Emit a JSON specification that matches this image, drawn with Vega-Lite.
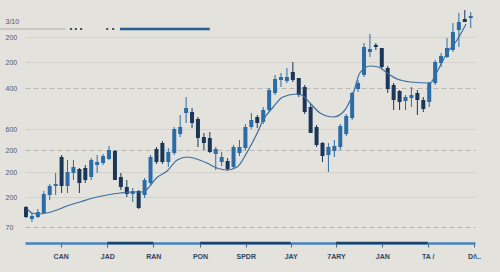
{
  "$schema": "https://vega.github.io/schema/vega-lite/v6.json",
  "autosize": "none",
  "width": 450,
  "height": 243,
  "padding": {"left": 25, "right": 25, "top": 0, "bottom": 29},
  "background": "#e3e2dd",
  "config": {
    "view": {"stroke": null},
    "scale": {"continuousPadding": 0},
    "axisX": {
      "grid": false,
      "domainColor": "#4683bd",
      "domainWidth": 2.5,
      "tickColor": "#5a6070",
      "tickSize": 4,
      "tickWidth": 1,
      "labelPadding": 5,
      "labelFont": "Liberation Sans",
      "labelFontSize": 7,
      "labelFontWeight": "bold",
      "labelColor": "#34445f",
      "labelFlush": false,
      "labelOverlap": false
    },
    "axisY": {
      "domain": false,
      "ticks": false,
      "labelAlign": "left",
      "labelPadding": 20,
      "labelFont": "Liberation Sans",
      "labelFontSize": 7,
      "labelColor": "#50566a",
      "labelOverlap": false,
      "grid": true,
      "gridWidth": 1
    }
  },
  "datasets": {
    "candles": [
      {"d":0,"open":36,"close":26,"high":37,"low":25},
      {"d":1,"open":24,"close":27,"high":30,"low":21},
      {"d":2,"open":26,"close":31,"high":34,"low":25},
      {"d":3,"open":30,"close":49,"high":52,"low":29},
      {"d":4,"open":48,"close":57,"high":59,"low":43},
      {"d":5,"open":57,"close":59,"high":70,"low":48},
      {"d":6,"open":86,"close":57,"high":88,"low":50},
      {"d":7,"open":57,"close":71,"high":83,"low":50},
      {"d":8,"open":70,"close":76,"high":83,"low":63},
      {"d":9,"open":74,"close":60,"high":75,"low":50},
      {"d":10,"open":75,"close":63,"high":78,"low":60},
      {"d":11,"open":66,"close":83,"high":85,"low":63},
      {"d":12,"open":78,"close":81,"high":88,"low":70},
      {"d":13,"open":80,"close":87,"high":89,"low":78},
      {"d":14,"open":84,"close":93,"high":97,"low":83},
      {"d":15,"open":92,"close":63,"high":93,"low":63},
      {"d":16,"open":66,"close":56,"high":70,"low":53},
      {"d":17,"open":56,"close":49,"high":63,"low":46},
      {"d":18,"open":49,"close":52,"high":55,"low":41},
      {"d":19,"open":52,"close":35,"high":53,"low":34},
      {"d":20,"open":48,"close":63,"high":65,"low":45},
      {"d":21,"open":60,"close":86,"high":88,"low":58},
      {"d":22,"open":94,"close":81,"high":96,"low":79},
      {"d":23,"open":100,"close":81,"high":102,"low":79},
      {"d":24,"open":81,"close":91,"high":95,"low":76},
      {"d":25,"open":90,"close":114,"high":116,"low":88},
      {"d":26,"open":109,"close":116,"high":128,"low":106},
      {"d":27,"open":130,"close":135,"high":146,"low":120},
      {"d":28,"open":131,"close":120,"high":135,"low":115},
      {"d":29,"open":124,"close":105,"high":126,"low":96},
      {"d":30,"open":106,"close":100,"high":110,"low":93},
      {"d":31,"open":105,"close":91,"high":111,"low":90},
      {"d":32,"open":89,"close":94,"high":96,"low":73},
      {"d":33,"open":81,"close":86,"high":91,"low":77},
      {"d":34,"open":82,"close":74,"high":85,"low":72},
      {"d":35,"open":76,"close":96,"high":98,"low":74},
      {"d":36,"open":90,"close":96,"high":103,"low":87},
      {"d":37,"open":95,"close":116,"high":119,"low":93},
      {"d":38,"open":116,"close":123,"high":130,"low":114},
      {"d":39,"open":126,"close":120,"high":128,"low":115},
      {"d":40,"open":121,"close":133,"high":136,"low":119},
      {"d":41,"open":133,"close":153,"high":155,"low":131},
      {"d":42,"open":150,"close":164,"high":168,"low":148},
      {"d":43,"open":163,"close":166,"high":170,"low":156},
      {"d":44,"open":162,"close":166,"high":175,"low":160},
      {"d":45,"open":171,"close":163,"high":181,"low":161},
      {"d":46,"open":165,"close":148,"high":165,"low":146},
      {"d":47,"open":156,"close":131,"high":158,"low":129},
      {"d":48,"open":136,"close":110,"high":139,"low":110},
      {"d":49,"open":116,"close":98,"high":118,"low":96},
      {"d":50,"open":100,"close":87,"high":101,"low":81},
      {"d":51,"open":88,"close":96,"high":100,"low":71},
      {"d":52,"open":92,"close":97,"high":103,"low":86},
      {"d":53,"open":96,"close":117,"high":119,"low":93},
      {"d":54,"open":109,"close":127,"high":129,"low":107},
      {"d":55,"open":125,"close":150,"high":151,"low":123},
      {"d":56,"open":154,"close":160,"high":163,"low":151},
      {"d":57,"open":168,"close":196,"high":200,"low":166},
      {"d":58,"open":191,"close":194,"high":209,"low":186},
      {"d":59,"open":198,"close":196,"high":200,"low":193},
      {"d":60,"open":195,"close":176,"high":195,"low":174},
      {"d":61,"open":175,"close":154,"high":177,"low":150},
      {"d":62,"open":158,"close":143,"high":160,"low":133},
      {"d":63,"open":152,"close":141,"high":153,"low":133},
      {"d":64,"open":142,"close":146,"high":148,"low":133},
      {"d":65,"open":145,"close":148,"high":156,"low":136},
      {"d":66,"open":150,"close":143,"high":153,"low":128},
      {"d":67,"open":143,"close":134,"high":146,"low":131},
      {"d":68,"open":141,"close":160,"high":161,"low":136},
      {"d":69,"open":160,"close":181,"high":183,"low":158},
      {"d":70,"open":180,"close":187,"high":190,"low":176},
      {"d":71,"open":186,"close":195,"high":205,"low":185},
      {"d":72,"open":193,"close":211,"high":220,"low":191},
      {"d":73,"open":213,"close":221,"high":230,"low":196},
      {"d":74,"open":224,"close":221,"high":233,"low":221},
      {"d":75,"open":225,"close":227,"high":231,"low":215}
    ],
    "ma": [
      {"d":0.2,"v":34},{"d":1,"v":30},{"d":2,"v":29},{"d":3.5,"v":30},{"d":5.2,"v":33},
      {"d":6.9,"v":37},{"d":9.1,"v":41},{"d":11.3,"v":45},{"d":13.7,"v":48},{"d":15.9,"v":50},
      {"d":18,"v":51},{"d":19.7,"v":51},{"d":20.6,"v":55},{"d":22,"v":65},{"d":23.8,"v":72},
      {"d":25.5,"v":83},{"d":27.2,"v":86},{"d":28.8,"v":84},{"d":30.5,"v":80},{"d":32.2,"v":75},
      {"d":33.9,"v":73},{"d":35.6,"v":76},{"d":37.3,"v":91},{"d":39,"v":110},{"d":40,"v":123},
      {"d":41.7,"v":136},{"d":43.3,"v":146},{"d":45.7,"v":149},{"d":46.5,"v":148},{"d":47.9,"v":140},
      {"d":49.6,"v":130},{"d":51.8,"v":126},{"d":53.5,"v":131},{"d":55.2,"v":150},{"d":56.3,"v":170},
      {"d":58,"v":177},{"d":59.4,"v":176},{"d":60.9,"v":170},{"d":62.6,"v":164},{"d":64.8,"v":161},
      {"d":68.1,"v":160},{"d":69.3,"v":171},{"d":71,"v":190},{"d":72.7,"v":203},{"d":74.2,"v":219}
    ],
    "grayBar": [{"x0": -4.4, "x1": 6.6, "v": 214}],
    "dots": [{"d": 7.6, "v": 214}, {"d": 8.4, "v": 214}, {"d": 9.3, "v": 214}, {"d": 13.7, "v": 214}, {"d": 14.7, "v": 214}],
    "blueBar": [{"x0": 15.85, "x1": 31.0, "v": 214}],
    "axisDark": [{"x0": 13.71, "x1": 21.47, "v": 0}, {"x0": 29.34, "x1": 44.64, "v": 0}, {"x0": 52.28, "x1": 67.74, "v": 0}]
  },
  "layer": [
    {
      "data": {"name": "candles"},
      "mark": {"type": "rule", "strokeWidth": 1},
      "encoding": {
        "x": {"field": "d", "type": "quantitative", "scale": {"domain": [-0.17, 75.72], "nice": false, "zero": false, "padding": 0}, "axis": {"title": null, "values": [5.85, 13.71, 21.47, 29.34, 37.05, 44.64, 52.28, 60.08, 67.74, 75.55], "labelExpr": "['CAN','JAD','RAN','PON','SPDR','JAY','7ARY','JAN','TA /','D/\\\\..'][indexof([5.85, 13.71, 21.47, 29.34, 37.05, 44.64, 52.28, 60.08, 67.74, 75.55], datum.value)]"}},
        "y": {"field": "low", "type": "quantitative", "scale": {"domain": [0, 243], "nice": false, "zero": false, "padding": 0}, "axis": {"title": null, "values": [222, 206, 181, 155, 114, 93, 71, 46, 16], "labelExpr": "['3/10','200','200','400','600','200','200','200','70'][indexof([222, 206, 181, 155, 114, 93, 71, 46, 16], datum.value)]", "gridColor": {"condition": {"test": "datum.value == 155 || datum.value == 93 || datum.value == 16", "value": "#b9b7b1"}, "value": "#d3d2cc"}, "gridDash": {"condition": {"test": "datum.value == 155 || datum.value == 93 || datum.value == 16", "value": [5, 3]}, "value": []}, "gridOpacity": {"condition": {"test": "datum.value == 222", "value": 0}, "value": 1}}},
        "y2": {"field": "high"},
        "color": {"condition": {"test": "datum.open > datum.close", "value": "#1b3658"}, "value": "#2b6ca6"}
      }
    },
    {
      "data": {"name": "candles"},
      "mark": {"type": "bar", "width": 4},
      "encoding": {
        "x": {"field": "d", "type": "quantitative", "scale": {"domain": [-0.17, 75.72], "nice": false, "zero": false, "padding": 0}, "axis": {"title": null, "values": [5.85, 13.71, 21.47, 29.34, 37.05, 44.64, 52.28, 60.08, 67.74, 75.55], "labelExpr": "['CAN','JAD','RAN','PON','SPDR','JAY','7ARY','JAN','TA /','D/\\\\..'][indexof([5.85, 13.71, 21.47, 29.34, 37.05, 44.64, 52.28, 60.08, 67.74, 75.55], datum.value)]"}},
        "y": {"field": "open", "type": "quantitative", "scale": {"domain": [0, 243], "nice": false, "zero": false, "padding": 0}, "axis": {"title": null, "values": [222, 206, 181, 155, 114, 93, 71, 46, 16], "labelExpr": "['3/10','200','200','400','600','200','200','200','70'][indexof([222, 206, 181, 155, 114, 93, 71, 46, 16], datum.value)]", "gridColor": {"condition": {"test": "datum.value == 155 || datum.value == 93 || datum.value == 16", "value": "#b9b7b1"}, "value": "#d3d2cc"}, "gridDash": {"condition": {"test": "datum.value == 155 || datum.value == 93 || datum.value == 16", "value": [5, 3]}, "value": []}, "gridOpacity": {"condition": {"test": "datum.value == 222", "value": 0}, "value": 1}}},
        "y2": {"field": "close"},
        "color": {"condition": {"test": "datum.open > datum.close", "value": "#1b3658"}, "value": "#2b6ca6"}
      }
    },
    {
      "data": {"name": "ma"},
      "mark": {"type": "line", "color": "#3c6f9f", "strokeWidth": 1.2, "interpolate": "monotone"},
      "encoding": {
        "x": {"field": "d", "type": "quantitative", "scale": {"domain": [-0.17, 75.72], "nice": false, "zero": false, "padding": 0}, "axis": {"title": null, "values": [5.85, 13.71, 21.47, 29.34, 37.05, 44.64, 52.28, 60.08, 67.74, 75.55], "labelExpr": "['CAN','JAD','RAN','PON','SPDR','JAY','7ARY','JAN','TA /','D/\\\\..'][indexof([5.85, 13.71, 21.47, 29.34, 37.05, 44.64, 52.28, 60.08, 67.74, 75.55], datum.value)]"}},
        "y": {"field": "v", "type": "quantitative", "scale": {"domain": [0, 243], "nice": false, "zero": false, "padding": 0}, "axis": {"title": null, "values": [222, 206, 181, 155, 114, 93, 71, 46, 16], "labelExpr": "['3/10','200','200','400','600','200','200','200','70'][indexof([222, 206, 181, 155, 114, 93, 71, 46, 16], datum.value)]", "gridColor": {"condition": {"test": "datum.value == 155 || datum.value == 93 || datum.value == 16", "value": "#b9b7b1"}, "value": "#d3d2cc"}, "gridDash": {"condition": {"test": "datum.value == 155 || datum.value == 93 || datum.value == 16", "value": [5, 3]}, "value": []}, "gridOpacity": {"condition": {"test": "datum.value == 222", "value": 0}, "value": 1}}}
      }
    },
    {
      "data": {"name": "grayBar"},
      "mark": {"type": "rule", "color": "#c9c8c4", "strokeWidth": 2},
      "encoding": {
        "x": {"field": "x0", "type": "quantitative", "scale": {"domain": [-0.17, 75.72], "nice": false, "zero": false, "padding": 0}, "axis": {"title": null, "values": [5.85, 13.71, 21.47, 29.34, 37.05, 44.64, 52.28, 60.08, 67.74, 75.55], "labelExpr": "['CAN','JAD','RAN','PON','SPDR','JAY','7ARY','JAN','TA /','D/\\\\..'][indexof([5.85, 13.71, 21.47, 29.34, 37.05, 44.64, 52.28, 60.08, 67.74, 75.55], datum.value)]"}},
        "x2": {"field": "x1"},
        "y": {"field": "v", "type": "quantitative", "scale": {"domain": [0, 243], "nice": false, "zero": false, "padding": 0}, "axis": {"title": null, "values": [222, 206, 181, 155, 114, 93, 71, 46, 16], "labelExpr": "['3/10','200','200','400','600','200','200','200','70'][indexof([222, 206, 181, 155, 114, 93, 71, 46, 16], datum.value)]", "gridColor": {"condition": {"test": "datum.value == 155 || datum.value == 93 || datum.value == 16", "value": "#b9b7b1"}, "value": "#d3d2cc"}, "gridDash": {"condition": {"test": "datum.value == 155 || datum.value == 93 || datum.value == 16", "value": [5, 3]}, "value": []}, "gridOpacity": {"condition": {"test": "datum.value == 222", "value": 0}, "value": 1}}}
      }
    },
    {
      "data": {"name": "dots"},
      "mark": {"type": "square", "color": "#3d4a5e", "size": 4, "opacity": 1},
      "encoding": {
        "x": {"field": "d", "type": "quantitative", "scale": {"domain": [-0.17, 75.72], "nice": false, "zero": false, "padding": 0}, "axis": {"title": null, "values": [5.85, 13.71, 21.47, 29.34, 37.05, 44.64, 52.28, 60.08, 67.74, 75.55], "labelExpr": "['CAN','JAD','RAN','PON','SPDR','JAY','7ARY','JAN','TA /','D/\\\\..'][indexof([5.85, 13.71, 21.47, 29.34, 37.05, 44.64, 52.28, 60.08, 67.74, 75.55], datum.value)]"}},
        "y": {"field": "v", "type": "quantitative", "scale": {"domain": [0, 243], "nice": false, "zero": false, "padding": 0}, "axis": {"title": null, "values": [222, 206, 181, 155, 114, 93, 71, 46, 16], "labelExpr": "['3/10','200','200','400','600','200','200','200','70'][indexof([222, 206, 181, 155, 114, 93, 71, 46, 16], datum.value)]", "gridColor": {"condition": {"test": "datum.value == 155 || datum.value == 93 || datum.value == 16", "value": "#b9b7b1"}, "value": "#d3d2cc"}, "gridDash": {"condition": {"test": "datum.value == 155 || datum.value == 93 || datum.value == 16", "value": [5, 3]}, "value": []}, "gridOpacity": {"condition": {"test": "datum.value == 222", "value": 0}, "value": 1}}}
      }
    },
    {
      "data": {"name": "blueBar"},
      "mark": {"type": "rule", "color": "#275e94", "strokeWidth": 2.5},
      "encoding": {
        "x": {"field": "x0", "type": "quantitative", "scale": {"domain": [-0.17, 75.72], "nice": false, "zero": false, "padding": 0}, "axis": {"title": null, "values": [5.85, 13.71, 21.47, 29.34, 37.05, 44.64, 52.28, 60.08, 67.74, 75.55], "labelExpr": "['CAN','JAD','RAN','PON','SPDR','JAY','7ARY','JAN','TA /','D/\\\\..'][indexof([5.85, 13.71, 21.47, 29.34, 37.05, 44.64, 52.28, 60.08, 67.74, 75.55], datum.value)]"}},
        "x2": {"field": "x1"},
        "y": {"field": "v", "type": "quantitative", "scale": {"domain": [0, 243], "nice": false, "zero": false, "padding": 0}, "axis": {"title": null, "values": [222, 206, 181, 155, 114, 93, 71, 46, 16], "labelExpr": "['3/10','200','200','400','600','200','200','200','70'][indexof([222, 206, 181, 155, 114, 93, 71, 46, 16], datum.value)]", "gridColor": {"condition": {"test": "datum.value == 155 || datum.value == 93 || datum.value == 16", "value": "#b9b7b1"}, "value": "#d3d2cc"}, "gridDash": {"condition": {"test": "datum.value == 155 || datum.value == 93 || datum.value == 16", "value": [5, 3]}, "value": []}, "gridOpacity": {"condition": {"test": "datum.value == 222", "value": 0}, "value": 1}}}
      }
    },
    {
      "data": {"name": "axisDark"},
      "mark": {"type": "rule", "color": "#22426a", "strokeWidth": 2.5},
      "encoding": {
        "x": {"field": "x0", "type": "quantitative", "scale": {"domain": [-0.17, 75.72], "nice": false, "zero": false, "padding": 0}, "axis": {"title": null, "values": [5.85, 13.71, 21.47, 29.34, 37.05, 44.64, 52.28, 60.08, 67.74, 75.55], "labelExpr": "['CAN','JAD','RAN','PON','SPDR','JAY','7ARY','JAN','TA /','D/\\\\..'][indexof([5.85, 13.71, 21.47, 29.34, 37.05, 44.64, 52.28, 60.08, 67.74, 75.55], datum.value)]"}},
        "x2": {"field": "x1"},
        "y": {"field": "v", "type": "quantitative", "scale": {"domain": [0, 243], "nice": false, "zero": false, "padding": 0}, "axis": {"title": null, "values": [222, 206, 181, 155, 114, 93, 71, 46, 16], "labelExpr": "['3/10','200','200','400','600','200','200','200','70'][indexof([222, 206, 181, 155, 114, 93, 71, 46, 16], datum.value)]", "gridColor": {"condition": {"test": "datum.value == 155 || datum.value == 93 || datum.value == 16", "value": "#b9b7b1"}, "value": "#d3d2cc"}, "gridDash": {"condition": {"test": "datum.value == 155 || datum.value == 93 || datum.value == 16", "value": [5, 3]}, "value": []}, "gridOpacity": {"condition": {"test": "datum.value == 222", "value": 0}, "value": 1}}}
      }
    }
  ]
}
